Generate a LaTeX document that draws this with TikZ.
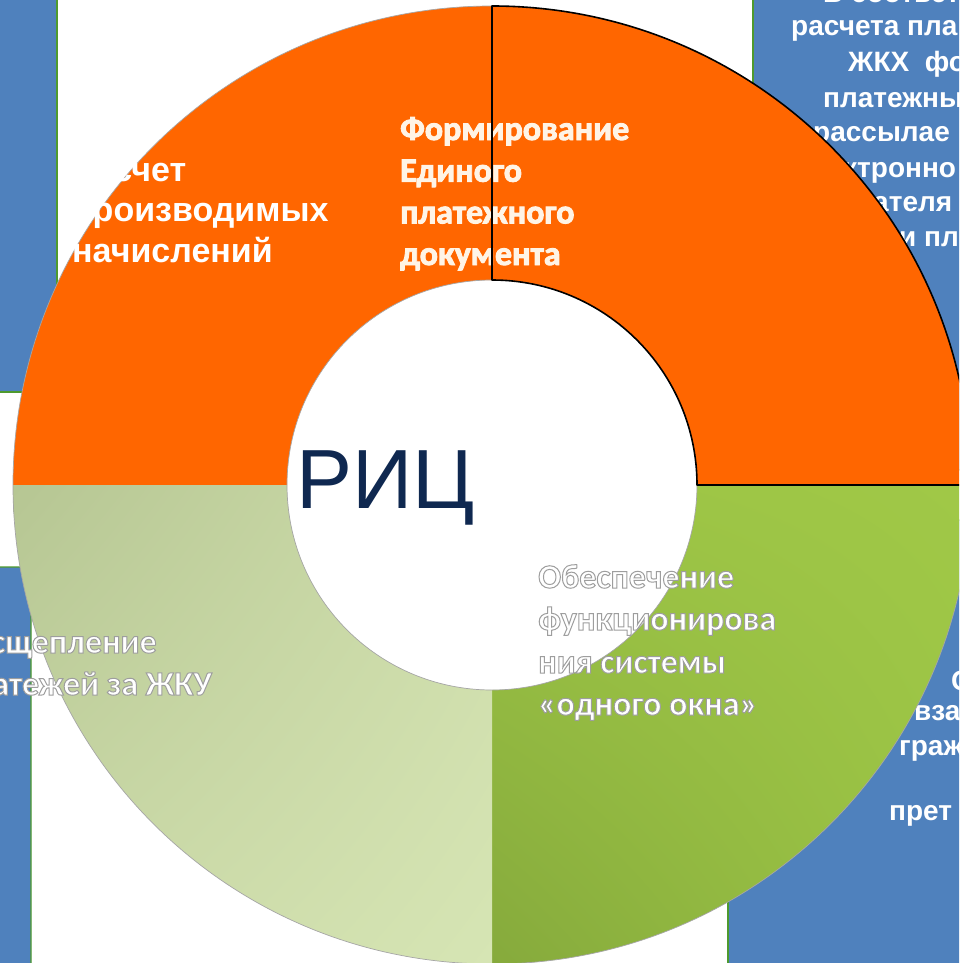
\documentclass[tikz,border=0pt]{standalone}
\usepackage{fontspec}
\setmainfont{Liberation Sans}
\newfontfamily\calib{Carlito}
\usetikzlibrary{calc,shadings}
\definecolor{orng}{HTML}{FF6600}
\definecolor{boxblue}{HTML}{4F81BD}
\definecolor{boxgreen}{HTML}{4E9A2E}
\definecolor{navy}{HTML}{0F2850}
\definecolor{cream}{HTML}{FFF4E6}
\definecolor{lgA}{HTML}{B6C693}
\definecolor{lgB}{HTML}{CDDCAA}
\definecolor{lgC}{HTML}{CAD9A7}
\definecolor{lgD}{HTML}{D6E5B4}
\definecolor{dgA}{HTML}{9CC445}
\definecolor{dgB}{HTML}{A0C847}
\definecolor{dgC}{HTML}{86AA3C}
\definecolor{dgD}{HTML}{9BC445}
\newcommand\outl[1]{\special{pdf:literal direct 2 Tr 1 w 0.62 0.62 0.62 RG}#1\special{pdf:literal direct 0 Tr}}
\newcommand\heavy[1]{\special{pdf:literal direct 2 Tr 0.9 w 1 0.957 0.902 RG}#1\special{pdf:literal direct 0 Tr}}
\tikzset{
  bluebox/.style={draw=boxgreen, line width=1.2pt, fill=boxblue},
  boxtxt/.style={anchor=base west, inner sep=0pt, text=white, font=\bfseries\fontsize{28}{34}\selectfont},
  lefttxt/.style={anchor=base west, inner sep=0pt, text=white, font=\bfseries\fontsize{34}{40}\selectfont},
  caltxt/.style={anchor=base west, inner sep=0pt, font=\calib\bfseries\fontsize{34}{42}\selectfont},
  rimline/.style={draw=gray!70, line width=0.7pt},
  selline/.style={draw=black, line width=1.6pt, line join=round}
}
\begin{document}
\begin{tikzpicture}[x=1pt,y=-1pt]
\useasboundingbox (0,0) rectangle (959,963);
\clip (0,0) rectangle (959,963);
\fill[white] (0,0) rectangle (959,963);
\coordinate (C) at (492,485);

% blue boxes behind the ring
\path[bluebox] (-5,-5) rectangle (57,392);
\path[bluebox] (-5,970) -- (-5,567) [rounded corners=12pt] -- (31,567) [sharp corners] -- (31,970) -- cycle;
\path[bluebox] (753,-5) rectangle (975,470);
\path[bluebox] (728,520) rectangle (975,975);

% texts of the right boxes
\node[boxtxt] (r0) at (823,3) {В соответс};
\node[boxtxt] (r1) at (791,36) {расчета пла};
\node[boxtxt] (r2) at (848,72) {ЖКХ\ \ фо};
\node[boxtxt] (r3) at (823,107) {платежны};
\node[boxtxt] (r4) at (813,141) {рассылае};
\node[boxtxt] (r5) at (843,177) {ктронно};
\node[boxtxt] (r6) at (873,211) {ателя};
\node[boxtxt] (r7) at (899,246) {и пл};
\node[boxtxt] (s1) at (951,690) {О};
\node[boxtxt] (s2) at (914,720) {вза};
\node[boxtxt] (s3) at (899,755) {граж};
\node[boxtxt] (s4) at (889,820) {прет};

% ring quadrants
\fill[orng] (C) ++(180:479) arc[start angle=180,end angle=270,radius=479]
  -- ($(C)+(270:205)$) arc[start angle=270,end angle=180,radius=205] -- cycle;
\fill[orng] (C) ++(270:479) arc[start angle=270,end angle=360,radius=479]
  -- ($(C)+(0:205)$) arc[start angle=360,end angle=270,radius=205] -- cycle;
\shade[upper left=dgA, upper right=dgB, lower left=dgC, lower right=dgD]
  (C) ++(0:479) arc[start angle=0,end angle=90,radius=479]
  -- ($(C)+(90:205)$) arc[start angle=90,end angle=0,radius=205] -- cycle;
\shade[upper left=lgA, upper right=lgB, lower left=lgC, lower right=lgD]
  (C) ++(90:479) arc[start angle=90,end angle=180,radius=479]
  -- ($(C)+(180:205)$) arc[start angle=180,end angle=90,radius=205] -- cycle;

% rims
\draw[rimline] (C) ++(0:479) arc[start angle=0,end angle=270,radius=479];
\draw[rimline] (C) ++(0:205) arc[start angle=0,end angle=270,radius=205];

% quadrant texts
\node[lefttxt] (a1) at (72,181) {Расчет};
\node[lefttxt] (a2) at (72,221.5) {производимых};
\node[lefttxt] (a3) at (72,262) {начислений};

\node[caltxt, text=cream] (b1) at (400,140) {\heavy{Формирование}};
\node[caltxt, text=cream] (b2) at (400,181.7) {\heavy{Единого}};
\node[caltxt, text=cream] (b3) at (400,223.4) {\heavy{платежного}};
\node[caltxt, text=cream] (b4) at (400,265) {\heavy{документа}};

\node[caltxt, text=white] (c1) at (538,588) {\outl{Обеспечение}};
\node[caltxt, text=white] (c2) at (538,630) {\outl{функционирова}};
\node[caltxt, text=white] (c3) at (538,673) {\outl{ния системы}};
\node[caltxt, text=white] (c4) at (538,715) {\outl{«одного окна»}};

\node[caltxt, text=white] (d1) at (-44,653) {\outl{Расщепление}};
\node[caltxt, text=white] (d2) at (-44,695) {\outl{платежей за ЖКУ}};

% selected quadrant outline
\draw[selline] (C) ++(270:479) arc[start angle=270,end angle=360,radius=479]
  -- ($(C)+(0:205)$) arc[start angle=360,end angle=270,radius=205] -- cycle;

% centre label
\node[anchor=base west, inner sep=0pt, text=navy, font=\fontsize{84}{90}\selectfont] (ric) at (296,508) {РИЦ};
\end{tikzpicture}
\end{document}
